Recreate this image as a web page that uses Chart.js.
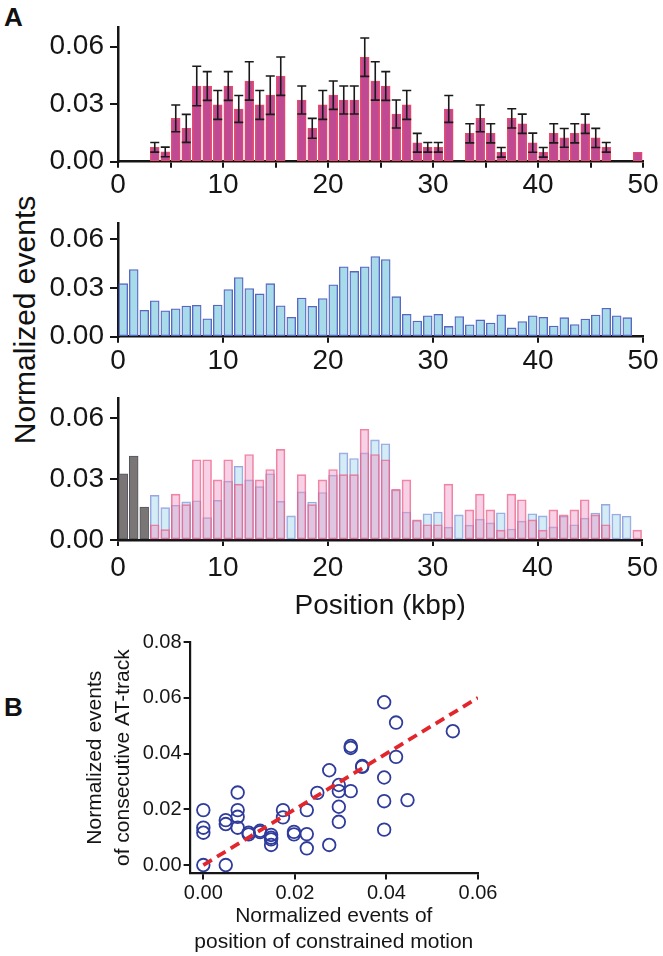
<!DOCTYPE html>
<html>
<head>
<meta charset="utf-8">
<script src="https://cdn.jsdelivr.net/npm/chart.js@4.4.1/dist/chart.umd.min.js"></script>
<style>
  html, body { margin: 0; padding: 0; background: #fff; }
  body { width: 663px; height: 956px; position: relative; overflow: hidden;
         font-family: "Liberation Sans", Arial, Helvetica, sans-serif; color: #111; }
  canvas { position: absolute; left: 0; }
  .panel { position: absolute; font-weight: bold; font-size: 26px; line-height: 26px; }
  #ytitle { position: absolute; left: 25px; top: 320px; white-space: nowrap; font-size: 30px;
            transform: translate(-50%, -50%) rotate(-90deg); }
</style>
</head>
<body>
<div class="panel" style="left:4px;top:4px">A</div>
<div class="panel" style="left:4px;top:694px">B</div>
<div id="ytitle">Normalized events</div>
<canvas id="motionChart" width="663" height="200" style="top:0"></canvas>
<canvas id="trackChart" width="663" height="175" style="top:200px"></canvas>
<canvas id="overlayChart" width="663" height="250" style="top:375px"></canvas>
<canvas id="corrChart" width="663" height="331" style="top:625px"></canvas>
<script>
// 1 kbp bins, 0-50 kbp (bar centres)
const bins = Array.from({ length: 50 }, (_, i) => i + 0.5);

// positions of constrained motion (normalized events) and their errors
const motionEvents = [0, 0, 0, 0.0075, 0.0051, 0.0226, 0.0174, 0.0395, 0.0395, 0.0296,
  0.0395, 0.0275, 0.0421, 0.0296, 0.0347, 0.0446, 0, 0.0322, 0.0174, 0.0296,
  0.0347, 0.0322, 0.0322, 0.0545, 0.0421, 0.0395, 0.0249, 0.0296, 0.0099, 0.0075,
  0.0075, 0.0275, 0, 0.0148, 0.0226, 0.0148, 0.0049, 0.0226, 0.0198, 0.0099,
  0.0049, 0.0148, 0.0124, 0.0148, 0.0198, 0.0124, 0.0075, 0, 0, 0.0049];
const motionErrors = [0, 0, 0, 0.0025, 0.0025, 0.007, 0.0073, 0.0103, 0.0075, 0.0075,
  0.0075, 0.007, 0.01, 0.0075, 0.01, 0.01, 0, 0.0073, 0.0052, 0.0075,
  0.0074, 0.0073, 0.0073, 0.01, 0.01, 0.0075, 0.0073, 0.0075, 0.0049, 0.0025,
  0.0025, 0.007, 0, 0.005, 0.007, 0.005, 0.0025, 0.005, 0.005, 0.005,
  0.0025, 0.005, 0.0049, 0.005, 0.005, 0.005, 0.0025, 0, 0, 0];

// consecutive AT-tracks (normalized events)
const atTrackEvents = [0.0326, 0.0413, 0.0162, 0.022, 0.0159, 0.0171, 0.0188, 0.0193, 0.011, 0.0195,
  0.029, 0.0363, 0.0296, 0.0263, 0.0326, 0.019, 0.0119, 0.0237, 0.0187, 0.0234,
  0.0319, 0.0429, 0.0401, 0.0429, 0.0493, 0.0474, 0.0246, 0.0138, 0.0096, 0.0129,
  0.0138, 0.0063, 0.0124, 0.0073, 0.0103, 0.0084, 0.0134, 0.0054, 0.0093, 0.0129,
  0.0119, 0.0065, 0.0117, 0.0075, 0.0108, 0.0133, 0.0175, 0.0128, 0.0117, null];
const greyBins = 3; // first bins drawn grey in the overlay

const yTicksA = [0, 0.03, 0.06];

// panel B
const scatterX = [0, 0, 0, 0, 0.0049, 0.0049, 0.0049, 0.0075, 0.0075, 0.0075, 0.0075,
  0.0099, 0.0099, 0.0124, 0.0124, 0.0148, 0.0148, 0.0148, 0.0148, 0.0174, 0.0174,
  0.0198, 0.0198, 0.0226, 0.0226, 0.0226, 0.0249, 0.0275, 0.0275,
  0.0296, 0.0296, 0.0296, 0.0296, 0.0322, 0.0322, 0.0322, 0.0347, 0.0347,
  0.0395, 0.0395, 0.0395, 0.0395, 0.0421, 0.0421, 0.0446, 0.0545];
const scatterY = [0.0197, 0.0134, 0.0116, 0, 0.0161, 0.0147, 0, 0.026, 0.0197, 0.0173, 0.0134,
  0.0116, 0.011, 0.0123, 0.0118, 0.0108, 0.0098, 0.0092, 0.0072, 0.0197, 0.0171,
  0.0119, 0.011, 0.0197, 0.0111, 0.006, 0.0259, 0.034, 0.0072,
  0.0287, 0.0265, 0.0209, 0.0155, 0.0427, 0.042, 0.0265, 0.0355, 0.0352,
  0.0584, 0.0314, 0.0229, 0.0127, 0.0511, 0.0388, 0.0233, 0.048];
const fitX = [0, 0.06];
const fitY = [0, 0.06];
const xTicksB = [0, 0.02, 0.04, 0.06];
const yTicksB = [0, 0.02, 0.04, 0.06, 0.08];

Chart.defaults.font.family = '"Liberation Sans", Arial, Helvetica, sans-serif';
Chart.defaults.color = '#111';

const ink = '#151515';

function points(xs, ys) {
  return xs.map((x, i) => ({ x: x, y: ys[i] }));
}

function xAxisA(step, height, pad, title) {
  return {
    type: 'linear', min: 0, max: 50, offset: false,
    border: { color: ink, width: 2.5 },
    grid: { drawOnChartArea: false, offset: false, color: ink, lineWidth: 2, tickLength: 6 },
    ticks: {
      stepSize: step, autoSkip: false, maxRotation: 0, padding: pad, color: ink,
      font: { size: 28 },
      callback: v => (v % 10 === 0 ? v : '')
    },
    title: title || { display: false },
    afterFit: s => { s.height = height; }
  };
}

function yAxisA() {
  return {
    min: 0, max: 0.07,
    border: { color: ink, width: 2.5 },
    grid: { drawOnChartArea: false, color: ink, lineWidth: 2, tickLength: 8 },
    ticks: { padding: 6, color: ink, font: { size: 28 }, callback: v => v.toFixed(2) },
    afterBuildTicks: s => { s.ticks = yTicksA.map(v => ({ value: v })); },
    afterFit: s => { s.width = 118; }
  };
}

function baseOptions(padTop, xAxis) {
  return {
    responsive: false, animation: false, devicePixelRatio: 1,
    layout: { autoPadding: false, padding: { left: 0, right: 20, top: padTop, bottom: 0 } },
    plugins: { legend: { display: false }, tooltip: { enabled: false } },
    scales: { x: xAxis, y: yAxisA() }
  };
}

// error bars for the motion histogram
const errorBars = {
  id: 'errorBars',
  afterDatasetsDraw(chart) {
    const { ctx, scales: { x, y } } = chart;
    ctx.save();
    ctx.strokeStyle = '#1a1a1a';
    ctx.lineWidth = 1.6;
    motionEvents.forEach((v, i) => {
      const e = motionErrors[i];
      if (!v || !e) return;
      const px = x.getPixelForValue(bins[i]);
      const top = y.getPixelForValue(v + e);
      const bot = y.getPixelForValue(v - e);
      ctx.beginPath();
      ctx.moveTo(px, top); ctx.lineTo(px, bot);
      ctx.moveTo(px - 4.5, top); ctx.lineTo(px + 4.5, top);
      ctx.moveTo(px - 4.5, bot); ctx.lineTo(px + 4.5, bot);
      ctx.stroke();
    });
    ctx.restore();
  }
};

const motionData = points(bins, motionEvents.map(v => v || null));
const trackData = points(bins, atTrackEvents);

// top: constrained motion with error bars
new Chart(document.getElementById('motionChart'), {
  type: 'bar',
  data: { datasets: [{
    data: motionData, backgroundColor: '#bf4a93', borderColor: '#ef4862',
    borderWidth: 1.1, borderSkipped: false, barThickness: 8.8
  }] },
  options: baseOptions(27.5, xAxisA(5, 38.3, 1)),
  plugins: [errorBars]
});

// middle: consecutive AT-tracks
new Chart(document.getElementById('trackChart'), {
  type: 'bar',
  data: { datasets: [{
    data: trackData, backgroundColor: '#a7dbea', borderColor: '#5865c2',
    borderWidth: 1.3, borderSkipped: false, barThickness: 8.8
  }] },
  options: baseOptions(3.7, xAxisA(10, 38.3, 2))
});

// bottom: overlay
new Chart(document.getElementById('overlayChart'), {
  type: 'bar',
  data: { datasets: [
    { data: motionData, grouped: false, backgroundColor: 'rgba(236,145,195,0.42)',
      borderColor: 'rgba(238,90,125,0.75)', borderWidth: 1, borderSkipped: false, barThickness: 8.8 },
    { data: trackData.map((p, i) => ({ x: p.x, y: i < greyBins ? null : p.y })), grouped: false,
      backgroundColor: 'rgba(170,218,238,0.5)', borderColor: 'rgba(120,135,215,0.75)',
      borderWidth: 1, borderSkipped: false, barThickness: 8.8 },
    { data: trackData.map((p, i) => ({ x: p.x, y: i < greyBins ? p.y : null })), grouped: false,
      backgroundColor: '#7b7676', borderColor: '#555560',
      borderWidth: 1, borderSkipped: false, barThickness: 8.8 }
  ] },
  options: baseOptions(4.35, xAxisA(10, 85, 5, {
    display: true, text: 'Position (kbp)', color: ink,
    font: { size: 28 }, padding: { top: 0, bottom: 2.2 }
  }))
});

// panel B: correlation
new Chart(document.getElementById('corrChart'), {
  type: 'scatter',
  data: { datasets: [
    { data: points(fitX, fitY), showLine: true, borderColor: '#e3262b', borderWidth: 3.8,
      borderDash: [10, 6], pointRadius: 0, fill: false },
    { data: points(scatterX, scatterY), pointRadius: 6.3, pointBorderWidth: 1.8,
      borderColor: '#2f3c9c', backgroundColor: 'rgba(0,0,0,0)' }
  ] },
  options: {
    responsive: false, animation: false, devicePixelRatio: 1,
    layout: { autoPadding: false, padding: { left: 81, right: 185, top: 17, bottom: 0 } },
    plugins: { legend: { display: false }, tooltip: { enabled: false } },
    scales: {
      x: {
        type: 'linear', min: -0.003, max: 0.06,
        border: { color: ink, width: 2.2 },
        grid: { drawOnChartArea: false, color: ink, lineWidth: 2, tickLength: 6 },
        ticks: { padding: 2, color: ink, font: { size: 20 }, callback: v => v.toFixed(2) },
        afterBuildTicks: s => { s.ticks = xTicksB.map(v => ({ value: v })); },
        title: { display: true, text: ['Normalized events of', 'position of constrained motion'],
          color: ink, font: { size: 21, lineHeight: 1.2 }, padding: { top: 0, bottom: 1.5 } },
        afterFit: s => { s.height = 82.6; }
      },
      y: {
        min: -0.003, max: 0.08,
        border: { color: ink, width: 2.2 },
        grid: { drawOnChartArea: false, color: ink, lineWidth: 2, tickLength: 6 },
        ticks: { padding: 2, color: ink, font: { size: 20 }, callback: v => v.toFixed(2) },
        afterBuildTicks: s => { s.ticks = yTicksB.map(v => ({ value: v })); },
        title: { display: true, text: ['Normalized events', 'of consecutive AT-track'],
          color: ink, font: { size: 21, lineHeight: 1.35 }, padding: { top: 0, bottom: 0 } },
        afterFit: s => { s.width = 108.6; }
      }
    }
  }
});
</script>
</body>
</html>
